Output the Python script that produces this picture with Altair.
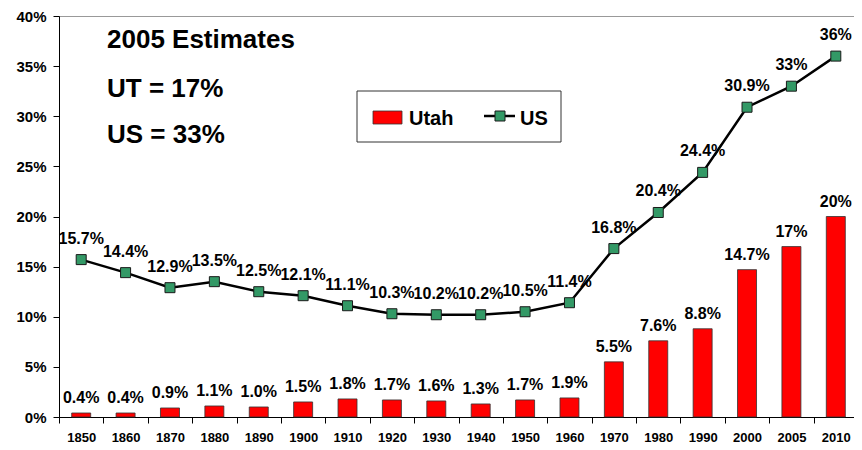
import altair as alt
import pandas as pd

years = ["1850", "1860", "1870", "1880", "1890", "1900", "1910", "1920", "1930",
         "1940", "1950", "1960", "1970", "1980", "1990", "2000", "2005", "2010"]
utah = [0.4, 0.4, 0.9, 1.1, 1.0, 1.5, 1.8, 1.7, 1.6, 1.3, 1.7, 1.9,
        5.5, 7.6, 8.8, 14.7, 17, 20]
utah_labels = ["0.4%", "0.4%", "0.9%", "1.1%", "1.0%", "1.5%", "1.8%", "1.7%", "1.6%",
               "1.3%", "1.7%", "1.9%", "5.5%", "7.6%", "8.8%", "14.7%", "17%", "20%"]
us = [15.7, 14.4, 12.9, 13.5, 12.5, 12.1, 11.1, 10.3, 10.2, 10.2, 10.5, 11.4,
      16.8, 20.4, 24.4, 30.9, 33, 36]
us_labels = ["15.7%", "14.4%", "12.9%", "13.5%", "12.5%", "12.1%", "11.1%", "10.3%", "10.2%",
             "10.2%", "10.5%", "11.4%", "16.8%", "20.4%", "24.4%", "30.9%", "33%", "36%"]
y_ticks = [0, 5, 10, 15, 20, 25, 30, 35, 40]
notes = ["2005 Estimates", "UT = 17%", "US = 33%"]
legend_names = ["Utah", "US"]

FONT = "Liberation Sans"
df = pd.DataFrame({"year": years, "utah": utah, "utah_label": utah_labels,
                   "us": us, "us_label": us_labels})

x = alt.X("year:O", sort=years,
          scale=alt.Scale(paddingInner=0, paddingOuter=0),
          axis=alt.Axis(title=None, labelAngle=0, labelFont=FONT, labelFontWeight="bold",
                        labelFontSize=13, labelColor="black", domainColor="black",
                        tickColor="black", tickSize=6, tickBand="extent",
                        labelPadding=8, domainWidth=1))
y_scale = alt.Scale(domain=[0, 40], nice=False)

base = alt.Chart(df)

bars = base.mark_bar(size=19, color="#FF0000", stroke="#333333", strokeWidth=0.8).encode(
    x=x,
    y=alt.Y("utah:Q", scale=y_scale,
            axis=alt.Axis(title=None, values=y_ticks, labelExpr="datum.value + '%'",
                          labelFont=FONT, labelFontWeight="bold", labelFontSize=15,
                          labelColor="black", domainColor="black", tickColor="black",
                          tickSize=6, labelPadding=7, grid=False)),
)
bar_text = base.mark_text(font=FONT, fontWeight="bold", fontSize=16, dy=-10,
                          baseline="alphabetic", color="black").encode(
    x=x, y=alt.Y("utah:Q", scale=y_scale), text="utah_label:N")

line = base.mark_line(color="black", strokeWidth=2.5).encode(
    x=x, y=alt.Y("us:Q", scale=y_scale))
points = base.mark_point(shape="square", filled=True, size=100, fill="#339966",
                         stroke="#1a1a1a", strokeWidth=1, opacity=1).encode(
    x=x, y=alt.Y("us:Q", scale=y_scale))
line_text = base.mark_text(font=FONT, fontWeight="bold", fontSize=16, dy=-16,
                           baseline="alphabetic", color="black").encode(
    x=x, y=alt.Y("us:Q", scale=y_scale), text="us_label:N")

note_layers = []
for txt, ypix in zip(notes, [32, 81, 127]):
    note_layers.append(
        alt.Chart(pd.DataFrame({"t": [txt]})).mark_text(
            font=FONT, fontWeight="bold", fontSize=26, align="left",
            baseline="alphabetic", color="black").encode(
            x=alt.value(48), y=alt.value(ypix), text="t:N"))

one = pd.DataFrame({"k": [0]})
leg_box = alt.Chart(one).mark_rect(fill="white", stroke="#333333", strokeWidth=1).encode(
    x=alt.value(298), x2=alt.value(502), y=alt.value(75), y2=alt.value(126))
leg_red = alt.Chart(one).mark_rect(fill="#FF0000", stroke="#333333", strokeWidth=0.8).encode(
    x=alt.value(314), x2=alt.value(343), y=alt.value(95), y2=alt.value(108))
leg_line = alt.Chart(one).mark_rule(color="black", strokeWidth=2.5).encode(
    x=alt.value(425), x2=alt.value(456), y=alt.value(100))
leg_pt = alt.Chart(one).mark_point(shape="square", filled=True, size=100, fill="#339966",
                                   stroke="#1a1a1a", strokeWidth=1, opacity=1).encode(
    x=alt.value(441), y=alt.value(100))
leg_t1 = alt.Chart(pd.DataFrame({"t": [legend_names[0]]})).mark_text(
    font=FONT, fontWeight="bold", fontSize=20, align="left", baseline="alphabetic",
    color="black").encode(x=alt.value(350), y=alt.value(109), text="t:N")
leg_t2 = alt.Chart(pd.DataFrame({"t": [legend_names[1]]})).mark_text(
    font=FONT, fontWeight="bold", fontSize=20, align="left", baseline="alphabetic",
    color="black").encode(x=alt.value(461), y=alt.value(109), text="t:N")

chart = alt.layer(
    bars, bar_text, line, points, line_text, *note_layers,
    leg_box, leg_red, leg_line, leg_pt, leg_t1, leg_t2
).properties(
    width=799, height=401,
    autosize=alt.AutoSizeParams(type="none"),
    padding={"left": 51, "top": 8, "right": -4, "bottom": 29},
).configure_view(stroke="#999999", strokeWidth=1)

chart.save("out.html", embed_options={"renderer": "svg", "actions": False})
